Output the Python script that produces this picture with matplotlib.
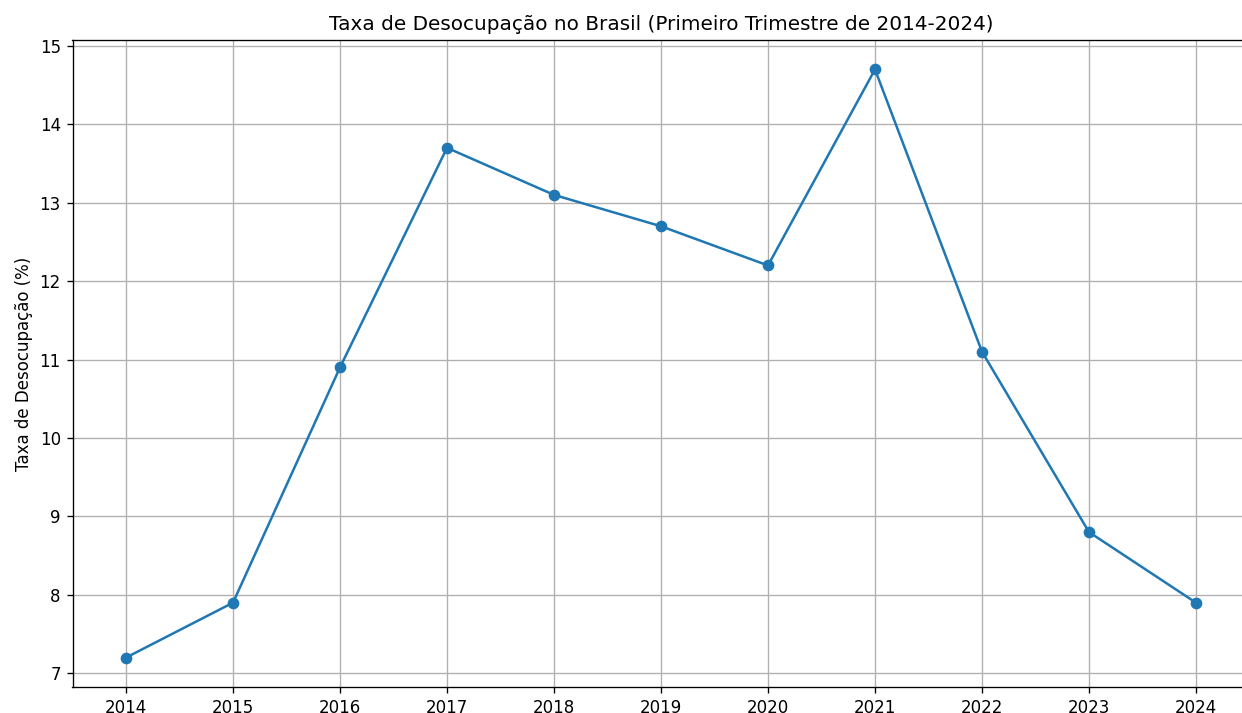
import matplotlib
matplotlib.use("Agg")
import matplotlib.pyplot as plt

anos = [2014, 2015, 2016, 2017, 2018, 2019, 2020, 2021, 2022, 2023, 2024]
taxa = [7.2, 7.9, 10.9, 13.7, 13.1, 12.7, 12.2, 14.7, 11.1, 8.8, 7.9]

fig = plt.figure(figsize=(1242 / 120, 713 / 120), dpi=120)
# axes run a little past the right edge, as in the cropped screenshot
ax = fig.add_axes([72.5 / 1242, 1 - 687 / 713, 1177 / 1242, 647 / 713])

ax.plot(anos, taxa, marker='o')
ax.set_title("Taxa de Desocupação no Brasil (Primeiro Trimestre de 2014-2024)")
ax.set_ylabel("Taxa de Desocupação (%)")
ax.set_xticks(anos)
ax.grid(True)

fig.savefig("out.png", dpi=120)
